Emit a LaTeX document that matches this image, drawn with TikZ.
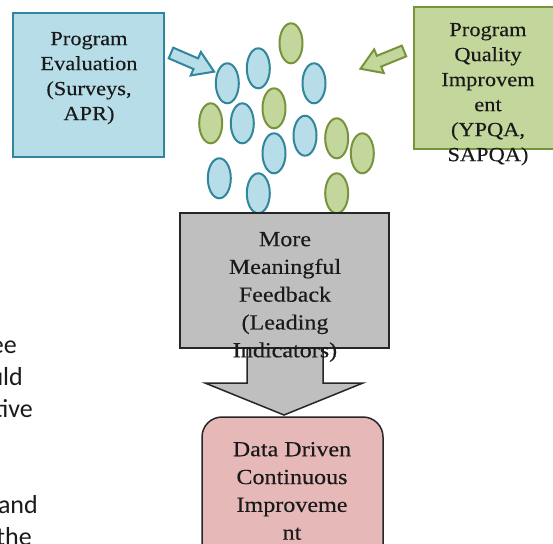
\documentclass[tikz,border=0pt]{standalone}
\usepackage{fontspec}
\setmainfont{Liberation Serif}[FakeStretch=1.12, FakeBold=0.3]
\newfontfamily\bodysans{Carlito}
\usetikzlibrary{shapes.geometric}
\definecolor{evalfill}{HTML}{B7DEE8}
\definecolor{evalline}{HTML}{31859C}
\definecolor{qualfill}{HTML}{C3D69B}
\definecolor{qualline}{HTML}{77933C}
\definecolor{feedfill}{HTML}{BFBFBF}
\definecolor{darkline}{HTML}{262626}
\definecolor{datafill}{HTML}{E6B9B8}
\definecolor{inktext}{HTML}{1A1A1A}
\tikzset{
  dot/.style={ellipse, line width=2pt, minimum width=23pt, minimum height=40pt, inner sep=0pt},
  bluedot/.style={dot, draw=evalline, fill=evalfill},
  greendot/.style={dot, draw=qualline, fill=qualfill},
  boxtext/.style={align=center, inner sep=0pt, anchor=north, text=inktext},
  smalltext/.style={boxtext, font=\fontsize{20}{25}\selectfont},
  largetext/.style={boxtext, font=\fontsize{21.5}{27.8}\selectfont},
  sidetext/.style={anchor=base east, inner sep=0pt, text=inktext,
    font=\bodysans\fontsize{26}{32}\selectfont},
  inflow/.style={line width=2pt, line join=miter},
}
\begin{document}
\begin{tikzpicture}[x=1pt, y=-1pt]
\useasboundingbox (0,0) rectangle (553,543);
\clip (0,0) rectangle (553,543);

% body text running behind the figure
\node[sidetext] (t1) at (17,353) {ee};
\node[sidetext] (t2) at (23,385) {uld};
\node[sidetext] (t3) at (33,417) {tive};
\node[sidetext] (t4) at (38,513) {and};
\node[sidetext] (t5) at (32,545) {the};

% source boxes
\node[draw=evalline, fill=evalfill, line width=2pt, minimum width=151pt,
      minimum height=144pt, inner sep=0pt] (eval) at (88.5,85) {};
\node[draw=qualline, fill=qualfill, line width=2pt, minimum width=156pt,
      minimum height=142pt, inner sep=0pt] (qual) at (492,78) {};

% inflow arrows
\begin{scope}[shift={(171,53)}, rotate=-23.4]
  \draw[inflow, draw=evalline, fill=evalfill]
    (0,-5.8) -- (27,-5.8) -- (27,-12.8) -- (47,0) -- (27,12.8) -- (27,5.8) -- (0,5.8) -- cycle;
\end{scope}
\begin{scope}[shift={(404,51)}, rotate=-157.8]
  \draw[inflow, draw=qualline, fill=qualfill]
    (0,-5.8) -- (27,-5.8) -- (27,-12.8) -- (47,0) -- (27,12.8) -- (27,5.8) -- (0,5.8) -- cycle;
\end{scope}

% cloud of data points
\node[bluedot] (b1) at (227.3,83.3) {};
\node[bluedot] (b2) at (258.3,68.3) {};
\node[bluedot] (b3) at (314,83.3) {};
\node[bluedot] (b4) at (242.3,123.3) {};
\node[bluedot] (b5) at (274,153.3) {};
\node[bluedot] (b6) at (305,135.7) {};
\node[bluedot] (b7) at (219.3,178.3) {};
\node[bluedot] (b8) at (258.3,193.3) {};
\node[greendot] (g1) at (291,43.3) {};
\node[greendot] (g2) at (210.7,123.3) {};
\node[greendot] (g3) at (274,108.3) {};
\node[greendot] (g4) at (336.7,138.3) {};
\node[greendot] (g5) at (362.3,153.3) {};
\node[greendot] (g6) at (336.7,193.3) {};

% funnel: feedback box and down arrow
\draw[fill=feedfill, draw=darkline, line width=1.5pt, line join=miter]
  (247,340) -- (247,383) -- (205,383) -- (284,415) -- (363,383) -- (323,383) -- (323,340) -- cycle;
\node[draw=darkline, fill=feedfill, line width=1.5pt, minimum width=209pt,
      minimum height=135pt, inner sep=0pt] (feed) at (284.5,280.5) {};

% result box
\node[draw=darkline, fill=datafill, line width=1.5pt, rounded corners=20pt,
      minimum width=181pt, minimum height=153pt, inner sep=0pt] (data) at (292.5,493.5) {};

% labels
\node[smalltext] (evaltext) at (89,31.8) {Program\\Evaluation\\(Surveys,\\APR)};
\node[smalltext] (qualtext) at (488,22.8) {Program\\Quality\\Improvem\\ent\\(YPQA,\\SAPQA)};
\node[largetext] (feedtext) at (285,231.8) {More\\Meaningful\\Feedback\\(Leading\\Indicators)};
\node[largetext] (datatext) at (292,441.8) {Data Driven\\Continuous\\Improveme\\nt};
\end{tikzpicture}
\end{document}
